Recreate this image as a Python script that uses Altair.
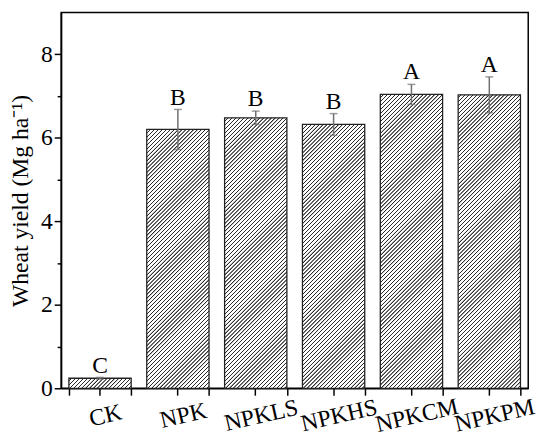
import altair as alt
import pandas as pd

# ---- data ----
cats = ["CK", "NPK", "NPKLS", "NPKHS", "NPKCM", "NPKPM"]
means = [0.24, 6.20, 6.48, 6.32, 7.04, 7.03]
errs = [0.02, 0.48, 0.16, 0.26, 0.24, 0.43]
letters = ["C", "B", "B", "B", "A", "A"]
y_major = [0, 2, 4, 6, 8]
y_minor = [1, 3, 5, 7]
y_title = "Wheat yield (Mg ha\u207b\u00b9)"

df = pd.DataFrame({
    "cat": cats,
    "mean": means,
    "lo": [m - e for m, e in zip(means, errs)],
    "hi": [m + e for m, e in zip(means, errs)],
    "letter": letters,
})

# ---- layout / style ----
W, H = 475, 382
YMAX = 9
PAD_IN, PAD_OUT = 0.2, 0.1
FONT = "Liberation Serif"
step = W / (len(cats) - PAD_IN + 2 * PAD_OUT)
bw = step * (1 - PAD_IN)
py = H / YMAX           # pixels per data unit
SEG = 40.0              # hatch tile height (px), multiple of PERIOD
PERIOD = 4.0            # hatch period along x (px)
DARKV, LIGHTV = 0x2a, 0xFF
BREAKS = [0.0, 0.10, 0.30, 0.40]   # ramp up, dark plateau, ramp down


def level(s, btop):
    phi = ((s - btop) % PERIOD) / PERIOD
    if phi < BREAKS[1]:
        return LIGHTV + (DARKV - LIGHTV) * phi / BREAKS[1]
    if phi < BREAKS[2]:
        return DARKV
    if phi < BREAKS[3]:
        return DARKV + (LIGHTV - DARKV) * (phi - BREAKS[2]) / (BREAKS[3] - BREAKS[2])
    return LIGHTV


def hexg(v):
    v = int(round(max(0, min(255, v))))
    return "#%02x%02x%02x" % (v, v, v)


def seg_gradient(w, hs, btop):
    """'////' hatch for one tile of a bar, phase-locked to the bar bottom."""
    r = hs / w
    k = (1 + r) / (1 + r * r)
    total = w + hs
    pts = {0.0, total}
    m = int(-btop // PERIOD) - 1
    while True:
        base_s = btop + m * PERIOD
        if base_s > total:
            break
        for f in BREAKS:
            s = base_s + f * PERIOD
            if 0 < s < total:
                pts.add(s)
        m += 1
    stops = [{"offset": round(s / total, 6), "color": hexg(level(s, btop))}
             for s in sorted(pts)]
    return {"gradient": "linear", "x1": 0, "y1": 0, "x2": k, "y2": k * r,
            "stops": stops}


# split every bar into hatch tiles (decoration only; the bar outline is
# drawn from `means` below)
seg_rows, conds = [], []
for c, mval in zip(cats, means):
    h = mval * py
    a, j = 0.0, 0
    while a < h - 1e-6:
        b = min(a + SEG, h)
        lo_px = max(a - 1.0, 0.0)
        sid = f"{c}_{j}"
        seg_rows.append({"cat": c, "seg": sid, "lo": lo_px / py, "hi": b / py})
        conds.append({"test": f"datum.seg === '{sid}'",
                      "value": seg_gradient(bw, b - lo_px, b)})
        a, j = b, j + 1
seg_df = pd.DataFrame(seg_rows)
fill_def = {"condition": conds[:-1], "value": conds[-1]["value"]}

xscale = alt.Scale(domain=cats, paddingInner=PAD_IN, paddingOuter=PAD_OUT)
yscale = alt.Scale(domain=[0, YMAX], nice=False)

base = alt.Chart(df)

hatch = alt.Chart(seg_df).mark_bar(strokeWidth=0).encode(
    x=alt.X("cat:N", scale=xscale, axis=None),
    y=alt.Y("lo:Q", scale=yscale, axis=None),
    y2="hi:Q",
    fill=fill_def,
)

bars = base.mark_bar(fill="transparent", stroke="#222222",
                     strokeWidth=1.3).encode(
    x=alt.X("cat:N", scale=xscale, axis=alt.Axis(
        title=None, orient="bottom", labelAngle=-13, labelAlign="center",
        labelBaseline="top", labelPadding=9, labelOffset=3,
        labelOverlap=False, tickSize=7)),
    y=alt.Y("mean:Q", scale=yscale, axis=alt.Axis(
        title=y_title, orient="left", values=y_major, format="d",
        tickSize=7, labelPadding=2, titlePadding=8)),
)

err = base.mark_rule(color="#707070", strokeWidth=1.5).encode(
    x=alt.X("cat:N", scale=xscale, axis=alt.Axis(
        title=None, orient="bottom", labels=False, domain=False,
        tickBand="extent", tickSize=7)),
    y=alt.Y("lo:Q", scale=yscale, axis=alt.Axis(
        title=None, orient="left", values=y_minor, labels=False,
        domain=False, tickSize=4)),
    y2="hi:Q",
)

cap_hi = base.mark_tick(color="#707070", size=8, thickness=1.5).encode(
    x=alt.X("cat:N", scale=xscale, axis=None),
    y=alt.Y("hi:Q", scale=yscale, axis=None),
)
cap_lo = base.mark_tick(color="#707070", size=8, thickness=1.5).encode(
    x=alt.X("cat:N", scale=xscale, axis=None),
    y=alt.Y("lo:Q", scale=yscale, axis=None),
)

txt = base.mark_text(font=FONT, fontSize=24, color="black",
                     baseline="alphabetic", dy=-5).encode(
    x=alt.X("cat:N", scale=xscale, axis=None),
    y=alt.Y("hi:Q", scale=yscale, axis=None),
    text="letter:N",
)

chart = alt.layer(hatch, bars, err, cap_hi, cap_lo, txt).resolve_axis(
    x="independent", y="independent"
).properties(
    width=W, height=H,
    padding={"left": 1, "top": 1, "right": 5, "bottom": 5},
).configure_view(
    stroke="black", strokeWidth=1.5
).configure_axis(
    grid=False,
    labelFont=FONT, labelFontSize=24, labelColor="black",
    titleFont=FONT, titleFontSize=24, titleColor="black",
    titleFontWeight="normal",
    tickColor="black", tickWidth=1.5,
    domainColor="black", domainWidth=1.5,
)

chart.save("out.html", embed_options={"renderer": "svg", "actions": False})
